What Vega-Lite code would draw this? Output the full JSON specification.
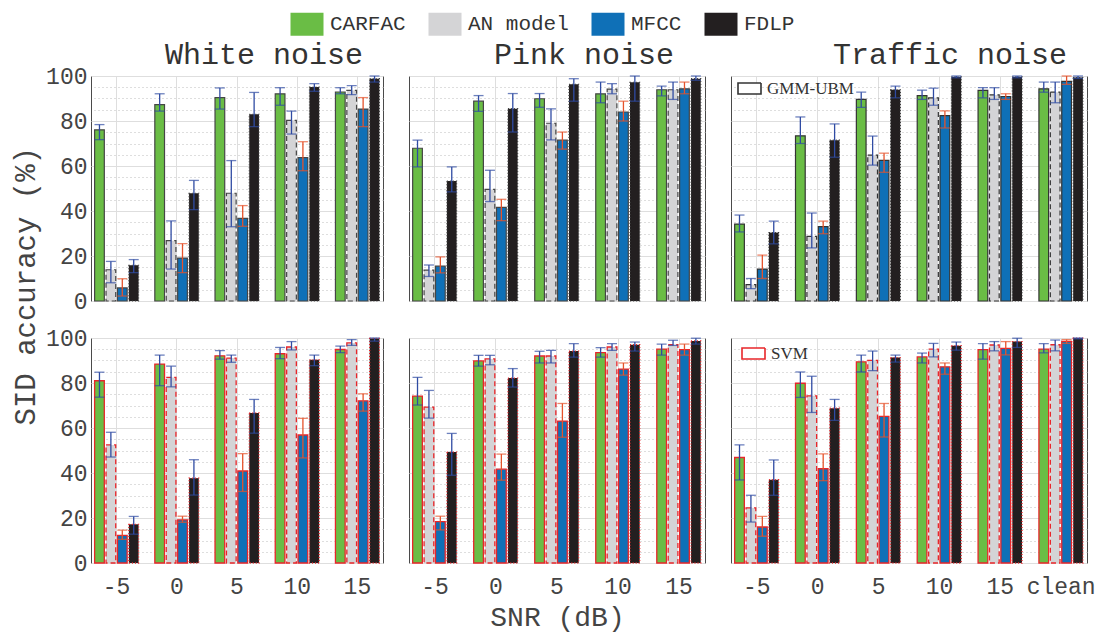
{
  "$schema": "https://vega.github.io/schema/vega-lite/v6.json",
  "padding": {"left": 12, "top": 7, "right": 20, "bottom": 2},
  "background": "white",
  "title": {"text": "SID accuracy (%)", "orient": "left", "anchor": "middle", "font": "Liberation Mono", "fontSize": 29, "fontWeight": "normal", "color": "#444", "offset": 4, "dx": 33},
  "datasets": {
    "d": [
      {"c":"GMM-UBM","n":"White noise","s":"-5","m":"CARFAC","v":76.1,"lo":71.7,"hi":78.4},
      {"c":"GMM-UBM","n":"White noise","s":"-5","m":"AN model","v":13.9,"lo":8.1,"hi":17.6},
      {"c":"GMM-UBM","n":"White noise","s":"-5","m":"MFCC","v":5.8,"lo":2.2,"hi":9.9},
      {"c":"GMM-UBM","n":"White noise","s":"-5","m":"FDLP","v":15.9,"lo":12.6,"hi":18.4},
      {"c":"GMM-UBM","n":"White noise","s":"0","m":"CARFAC","v":87.3,"lo":84.4,"hi":92.1},
      {"c":"GMM-UBM","n":"White noise","s":"0","m":"AN model","v":26.8,"lo":14.2,"hi":35.6},
      {"c":"GMM-UBM","n":"White noise","s":"0","m":"MFCC","v":19.1,"lo":12.6,"hi":25.5},
      {"c":"GMM-UBM","n":"White noise","s":"0","m":"FDLP","v":47.9,"lo":40.6,"hi":53.6},
      {"c":"GMM-UBM","n":"White noise","s":"5","m":"CARFAC","v":90.4,"lo":85.3,"hi":94.7},
      {"c":"GMM-UBM","n":"White noise","s":"5","m":"AN model","v":47.9,"lo":33.0,"hi":62.4},
      {"c":"GMM-UBM","n":"White noise","s":"5","m":"MFCC","v":36.7,"lo":33.2,"hi":42.4},
      {"c":"GMM-UBM","n":"White noise","s":"5","m":"FDLP","v":83.0,"lo":77.5,"hi":92.7},
      {"c":"GMM-UBM","n":"White noise","s":"10","m":"CARFAC","v":92.1,"lo":87.0,"hi":94.8},
      {"c":"GMM-UBM","n":"White noise","s":"10","m":"AN model","v":80.3,"lo":74.2,"hi":84.4},
      {"c":"GMM-UBM","n":"White noise","s":"10","m":"MFCC","v":63.7,"lo":57.9,"hi":70.8},
      {"c":"GMM-UBM","n":"White noise","s":"10","m":"FDLP","v":95.1,"lo":93.2,"hi":96.6},
      {"c":"GMM-UBM","n":"White noise","s":"15","m":"CARFAC","v":92.9,"lo":92.1,"hi":94.8},
      {"c":"GMM-UBM","n":"White noise","s":"15","m":"AN model","v":93.6,"lo":91.7,"hi":95.7},
      {"c":"GMM-UBM","n":"White noise","s":"15","m":"MFCC","v":85.3,"lo":77.5,"hi":90.4},
      {"c":"GMM-UBM","n":"White noise","s":"15","m":"FDLP","v":98.8,"lo":97.3,"hi":100},

      {"c":"GMM-UBM","n":"Pink noise","s":"-5","m":"CARFAC","v":67.9,"lo":59.6,"hi":71.5},
      {"c":"GMM-UBM","n":"Pink noise","s":"-5","m":"AN model","v":13.7,"lo":10.9,"hi":16.0},
      {"c":"GMM-UBM","n":"Pink noise","s":"-5","m":"MFCC","v":15.5,"lo":12.5,"hi":19.6},
      {"c":"GMM-UBM","n":"Pink noise","s":"-5","m":"FDLP","v":53.3,"lo":48.5,"hi":59.6},
      {"c":"GMM-UBM","n":"Pink noise","s":"0","m":"CARFAC","v":88.8,"lo":84.3,"hi":91.3},
      {"c":"GMM-UBM","n":"Pink noise","s":"0","m":"AN model","v":49.6,"lo":44.2,"hi":58.1},
      {"c":"GMM-UBM","n":"Pink noise","s":"0","m":"MFCC","v":41.6,"lo":35.7,"hi":45.2},
      {"c":"GMM-UBM","n":"Pink noise","s":"0","m":"FDLP","v":85.5,"lo":75.1,"hi":92.2},
      {"c":"GMM-UBM","n":"Pink noise","s":"5","m":"CARFAC","v":89.9,"lo":86.1,"hi":92.2},
      {"c":"GMM-UBM","n":"Pink noise","s":"5","m":"AN model","v":79.0,"lo":71.6,"hi":85.4},
      {"c":"GMM-UBM","n":"Pink noise","s":"5","m":"MFCC","v":71.5,"lo":67.5,"hi":75.1},
      {"c":"GMM-UBM","n":"Pink noise","s":"5","m":"FDLP","v":96.3,"lo":88.8,"hi":98.8},
      {"c":"GMM-UBM","n":"Pink noise","s":"10","m":"CARFAC","v":92.1,"lo":88.1,"hi":97.3},
      {"c":"GMM-UBM","n":"Pink noise","s":"10","m":"AN model","v":94.2,"lo":92.1,"hi":96.6},
      {"c":"GMM-UBM","n":"Pink noise","s":"10","m":"MFCC","v":84.0,"lo":80.0,"hi":88.8},
      {"c":"GMM-UBM","n":"Pink noise","s":"10","m":"FDLP","v":97.2,"lo":88.8,"hi":100},
      {"c":"GMM-UBM","n":"Pink noise","s":"15","m":"CARFAC","v":93.9,"lo":91.2,"hi":95.5},
      {"c":"GMM-UBM","n":"Pink noise","s":"15","m":"AN model","v":93.9,"lo":89.6,"hi":97.3},
      {"c":"GMM-UBM","n":"Pink noise","s":"15","m":"MFCC","v":94.3,"lo":92.1,"hi":97.3},
      {"c":"GMM-UBM","n":"Pink noise","s":"15","m":"FDLP","v":98.8,"lo":98.1,"hi":100},

      {"c":"GMM-UBM","n":"Traffic noise","s":"-5","m":"CARFAC","v":34.2,"lo":30.7,"hi":38.2},
      {"c":"GMM-UBM","n":"Traffic noise","s":"-5","m":"AN model","v":7.3,"lo":5.5,"hi":10.0},
      {"c":"GMM-UBM","n":"Traffic noise","s":"-5","m":"MFCC","v":14.2,"lo":10.0,"hi":20.4},
      {"c":"GMM-UBM","n":"Traffic noise","s":"-5","m":"FDLP","v":30.4,"lo":25.4,"hi":35.5},
      {"c":"GMM-UBM","n":"Traffic noise","s":"0","m":"CARFAC","v":73.4,"lo":70.0,"hi":81.8},
      {"c":"GMM-UBM","n":"Traffic noise","s":"0","m":"AN model","v":28.7,"lo":23.6,"hi":39.1},
      {"c":"GMM-UBM","n":"Traffic noise","s":"0","m":"MFCC","v":33.1,"lo":29.9,"hi":35.5},
      {"c":"GMM-UBM","n":"Traffic noise","s":"0","m":"FDLP","v":71.5,"lo":63.9,"hi":78.7},
      {"c":"GMM-UBM","n":"Traffic noise","s":"5","m":"CARFAC","v":89.6,"lo":86.1,"hi":92.8},
      {"c":"GMM-UBM","n":"Traffic noise","s":"5","m":"AN model","v":64.8,"lo":60.4,"hi":73.3},
      {"c":"GMM-UBM","n":"Traffic noise","s":"5","m":"MFCC","v":62.5,"lo":57.2,"hi":65.7},
      {"c":"GMM-UBM","n":"Traffic noise","s":"5","m":"FDLP","v":93.9,"lo":90.3,"hi":95.5},
      {"c":"GMM-UBM","n":"Traffic noise","s":"10","m":"CARFAC","v":91.3,"lo":89.6,"hi":93.7},
      {"c":"GMM-UBM","n":"Traffic noise","s":"10","m":"AN model","v":90.3,"lo":87.0,"hi":94.6},
      {"c":"GMM-UBM","n":"Traffic noise","s":"10","m":"MFCC","v":82.4,"lo":76.9,"hi":84.5},
      {"c":"GMM-UBM","n":"Traffic noise","s":"10","m":"FDLP","v":99.6,"lo":99.2,"hi":100},
      {"c":"GMM-UBM","n":"Traffic noise","s":"15","m":"CARFAC","v":93.6,"lo":90.3,"hi":94.8},
      {"c":"GMM-UBM","n":"Traffic noise","s":"15","m":"AN model","v":91.6,"lo":89.6,"hi":94.8},
      {"c":"GMM-UBM","n":"Traffic noise","s":"15","m":"MFCC","v":90.9,"lo":89.6,"hi":92.1},
      {"c":"GMM-UBM","n":"Traffic noise","s":"15","m":"FDLP","v":99.6,"lo":99.2,"hi":100},
      {"c":"GMM-UBM","n":"Traffic noise","s":"clean","m":"CARFAC","v":94.3,"lo":92.8,"hi":97.3},
      {"c":"GMM-UBM","n":"Traffic noise","s":"clean","m":"AN model","v":92.8,"lo":88.1,"hi":97.3},
      {"c":"GMM-UBM","n":"Traffic noise","s":"clean","m":"MFCC","v":97.6,"lo":96.3,"hi":100},
      {"c":"GMM-UBM","n":"Traffic noise","s":"clean","m":"FDLP","v":99.3,"lo":98.9,"hi":100},

      {"c":"SVM","n":"White noise","s":"-5","m":"CARFAC","v":81.0,"lo":73.7,"hi":84.8},
      {"c":"SVM","n":"White noise","s":"-5","m":"AN model","v":52.5,"lo":47.1,"hi":58.1},
      {"c":"SVM","n":"White noise","s":"-5","m":"MFCC","v":12.3,"lo":10.5,"hi":14.6},
      {"c":"SVM","n":"White noise","s":"-5","m":"FDLP","v":17.2,"lo":12.8,"hi":20.7},
      {"c":"SVM","n":"White noise","s":"0","m":"CARFAC","v":88.4,"lo":78.8,"hi":92.4},
      {"c":"SVM","n":"White noise","s":"0","m":"AN model","v":82.5,"lo":78.3,"hi":87.5},
      {"c":"SVM","n":"White noise","s":"0","m":"MFCC","v":19.2,"lo":18.1,"hi":20.8},
      {"c":"SVM","n":"White noise","s":"0","m":"FDLP","v":37.7,"lo":30.2,"hi":45.9},
      {"c":"SVM","n":"White noise","s":"5","m":"CARFAC","v":92.1,"lo":90.6,"hi":94.4},
      {"c":"SVM","n":"White noise","s":"5","m":"AN model","v":91.1,"lo":89.2,"hi":92.4},
      {"c":"SVM","n":"White noise","s":"5","m":"MFCC","v":40.9,"lo":31.8,"hi":48.6},
      {"c":"SVM","n":"White noise","s":"5","m":"FDLP","v":66.7,"lo":57.7,"hi":72.7},
      {"c":"SVM","n":"White noise","s":"10","m":"CARFAC","v":93.0,"lo":90.8,"hi":95.8},
      {"c":"SVM","n":"White noise","s":"10","m":"AN model","v":96.0,"lo":94.7,"hi":98.4},
      {"c":"SVM","n":"White noise","s":"10","m":"MFCC","v":56.9,"lo":46.7,"hi":64.3},
      {"c":"SVM","n":"White noise","s":"10","m":"FDLP","v":90.3,"lo":87.7,"hi":92.4},
      {"c":"SVM","n":"White noise","s":"15","m":"CARFAC","v":94.9,"lo":93.5,"hi":96.4},
      {"c":"SVM","n":"White noise","s":"15","m":"AN model","v":97.8,"lo":96.7,"hi":99.3},
      {"c":"SVM","n":"White noise","s":"15","m":"MFCC","v":72.1,"lo":67.5,"hi":75.2},
      {"c":"SVM","n":"White noise","s":"15","m":"FDLP","v":99.8,"lo":98.6,"hi":100},

      {"c":"SVM","n":"Pink noise","s":"-5","m":"CARFAC","v":74.2,"lo":70.2,"hi":82.5},
      {"c":"SVM","n":"Pink noise","s":"-5","m":"AN model","v":69.3,"lo":64.4,"hi":76.7},
      {"c":"SVM","n":"Pink noise","s":"-5","m":"MFCC","v":18.4,"lo":14.7,"hi":20.8},
      {"c":"SVM","n":"Pink noise","s":"-5","m":"FDLP","v":49.3,"lo":39.0,"hi":57.6},
      {"c":"SVM","n":"Pink noise","s":"0","m":"CARFAC","v":89.8,"lo":87.5,"hi":92.3},
      {"c":"SVM","n":"Pink noise","s":"0","m":"AN model","v":90.7,"lo":88.1,"hi":92.3},
      {"c":"SVM","n":"Pink noise","s":"0","m":"MFCC","v":41.7,"lo":36.8,"hi":48.4},
      {"c":"SVM","n":"Pink noise","s":"0","m":"FDLP","v":82.2,"lo":78.2,"hi":86.4},
      {"c":"SVM","n":"Pink noise","s":"5","m":"CARFAC","v":92.0,"lo":88.9,"hi":94.1},
      {"c":"SVM","n":"Pink noise","s":"5","m":"AN model","v":92.0,"lo":88.9,"hi":94.5},
      {"c":"SVM","n":"Pink noise","s":"5","m":"MFCC","v":63.1,"lo":55.9,"hi":70.9},
      {"c":"SVM","n":"Pink noise","s":"5","m":"FDLP","v":94.2,"lo":91.5,"hi":97.5},
      {"c":"SVM","n":"Pink noise","s":"10","m":"CARFAC","v":93.5,"lo":91.5,"hi":95.7},
      {"c":"SVM","n":"Pink noise","s":"10","m":"AN model","v":96.0,"lo":94.5,"hi":97.5},
      {"c":"SVM","n":"Pink noise","s":"10","m":"MFCC","v":86.2,"lo":83.5,"hi":88.9},
      {"c":"SVM","n":"Pink noise","s":"10","m":"FDLP","v":97.0,"lo":94.2,"hi":98.2},
      {"c":"SVM","n":"Pink noise","s":"15","m":"CARFAC","v":95.1,"lo":92.4,"hi":97.3},
      {"c":"SVM","n":"Pink noise","s":"15","m":"AN model","v":97.0,"lo":96.7,"hi":99.0},
      {"c":"SVM","n":"Pink noise","s":"15","m":"MFCC","v":94.8,"lo":92.4,"hi":97.3},
      {"c":"SVM","n":"Pink noise","s":"15","m":"FDLP","v":98.7,"lo":97.3,"hi":99.9},

      {"c":"SVM","n":"Traffic noise","s":"-5","m":"CARFAC","v":46.9,"lo":36.9,"hi":52.5},
      {"c":"SVM","n":"Traffic noise","s":"-5","m":"AN model","v":24.5,"lo":18.2,"hi":30.1},
      {"c":"SVM","n":"Traffic noise","s":"-5","m":"MFCC","v":16.0,"lo":11.9,"hi":20.7},
      {"c":"SVM","n":"Traffic noise","s":"-5","m":"FDLP","v":37.0,"lo":30.1,"hi":45.8},
      {"c":"SVM","n":"Traffic noise","s":"0","m":"CARFAC","v":79.9,"lo":73.6,"hi":84.9},
      {"c":"SVM","n":"Traffic noise","s":"0","m":"AN model","v":74.3,"lo":66.9,"hi":83.0},
      {"c":"SVM","n":"Traffic noise","s":"0","m":"MFCC","v":41.9,"lo":36.6,"hi":48.5},
      {"c":"SVM","n":"Traffic noise","s":"0","m":"FDLP","v":68.8,"lo":63.4,"hi":72.7},
      {"c":"SVM","n":"Traffic noise","s":"5","m":"CARFAC","v":89.4,"lo":84.9,"hi":92.4},
      {"c":"SVM","n":"Traffic noise","s":"5","m":"AN model","v":90.1,"lo":85.5,"hi":94.2},
      {"c":"SVM","n":"Traffic noise","s":"5","m":"MFCC","v":65.2,"lo":56.0,"hi":70.9},
      {"c":"SVM","n":"Traffic noise","s":"5","m":"FDLP","v":91.3,"lo":89.3,"hi":92.4},
      {"c":"SVM","n":"Traffic noise","s":"10","m":"CARFAC","v":91.6,"lo":88.9,"hi":93.3},
      {"c":"SVM","n":"Traffic noise","s":"10","m":"AN model","v":95.1,"lo":91.6,"hi":97.6},
      {"c":"SVM","n":"Traffic noise","s":"10","m":"MFCC","v":87.2,"lo":83.9,"hi":88.9},
      {"c":"SVM","n":"Traffic noise","s":"10","m":"FDLP","v":96.6,"lo":94.6,"hi":98.2},
      {"c":"SVM","n":"Traffic noise","s":"15","m":"CARFAC","v":94.8,"lo":90.6,"hi":97.5},
      {"c":"SVM","n":"Traffic noise","s":"15","m":"AN model","v":96.9,"lo":94.3,"hi":98.4},
      {"c":"SVM","n":"Traffic noise","s":"15","m":"MFCC","v":95.4,"lo":92.5,"hi":98.4},
      {"c":"SVM","n":"Traffic noise","s":"15","m":"FDLP","v":98.4,"lo":95.8,"hi":99.9},
      {"c":"SVM","n":"Traffic noise","s":"clean","m":"CARFAC","v":95.1,"lo":93.4,"hi":97.5},
      {"c":"SVM","n":"Traffic noise","s":"clean","m":"AN model","v":97.0,"lo":94.3,"hi":99.1},
      {"c":"SVM","n":"Traffic noise","s":"clean","m":"MFCC","v":98.5,"lo":97.6,"hi":99.3},
      {"c":"SVM","n":"Traffic noise","s":"clean","m":"FDLP","v":99.9,"lo":99.6,"hi":100}
    ]
  },
  "data": {"name": "d"},
  "vconcat": [
    {
      "hconcat": [
        {
          "width": 292, "height": 225,
          "title": {"text": "White noise", "font": "Liberation Mono", "fontSize": 30, "fontWeight": "normal", "color": "#333", "offset": -5, "dx": 27},
          "transform": [{"filter": "datum.c === 'GMM-UBM' && datum.n === 'White noise'"}],
          "encoding": {
            "x": {"field": "s", "type": "nominal", "sort": ["-5","0","5","10","15"], "scale": {"paddingInner": 0.27, "paddingOuter": 0.06}, "axis": {"labels": false, "title": null, "grid": true, "bandPosition": 0.5}},
            "xOffset": {"field": "m", "type": "nominal", "sort": ["CARFAC","AN model","MFCC","FDLP"], "scale": {"paddingInner": 0.15, "paddingOuter": 0}}
          },
          "layer": [
            {"mark": {"type": "bar", "strokeWidth": 1.2},
             "encoding": {
               "y": {"field": "v", "type": "quantitative", "scale": {"domain": [0, 100], "nice": false}, "axis": {"values": [0,20,40,60,80,100], "title": null, "grid": true}},
               "color": {"field": "m", "type": "nominal", "scale": {"domain": ["CARFAC","AN model","MFCC","FDLP"], "range": ["#6abd45","#d4d4d6","#0f70b7","#231f20"]}, "legend": {"orient": "none", "legendX": 199, "legendY": -69, "direction": "horizontal", "title": null}},
               "strokeDash": {"field": "m", "type": "nominal", "scale": {"domain": ["CARFAC","AN model","MFCC","FDLP"], "range": [[1,0],[5,3],[1,0],[1,2]]}, "legend": {"orient": "none", "legendX": 199, "legendY": -69, "direction": "horizontal", "title": null}},
               "stroke": {"field": "c", "type": "nominal", "scale": {"domain": ["GMM-UBM"], "range": ["#454545"]}, "legend": null}
             }},
            {"mark": {"type": "rule", "strokeWidth": 1.3},
             "encoding": {
               "y": {"field": "lo", "type": "quantitative", "axis": {"orient": "right", "values": [5,10,15,25,30,35,45,50,55,65,70,75,85,90,95], "grid": true, "gridDash": [1,3], "gridColor": "#bdbdbd", "labels": false, "ticks": false, "domain": false, "title": null}},
               "y2": {"field": "hi"},
               "color": {"condition": {"test": "datum.m === 'MFCC'", "value": "#e5522b"}, "value": "#2f4ba3"}
             }},
            {"mark": {"type": "tick", "orient": "horizontal", "size": 10, "thickness": 1.3},
             "encoding": {"y": {"field": "lo", "type": "quantitative", "axis": null}, "color": {"condition": {"test": "datum.m === 'MFCC'", "value": "#e5522b"}, "value": "#2f4ba3"}}},
            {"mark": {"type": "tick", "orient": "horizontal", "size": 10, "thickness": 1.3},
             "encoding": {"y": {"field": "hi", "type": "quantitative", "axis": null}, "color": {"condition": {"test": "datum.m === 'MFCC'", "value": "#e5522b"}, "value": "#2f4ba3"}}}
          ],
          "resolve": {"axis": {"y": "independent"}}
        },
        {
          "width": 296, "height": 225,
          "title": {"text": "Pink noise", "font": "Liberation Mono", "fontSize": 30, "fontWeight": "normal", "color": "#333", "offset": 5, "dx": 27},
          "transform": [{"filter": "datum.c === 'GMM-UBM' && datum.n === 'Pink noise'"}],
          "encoding": {
            "x": {"field": "s", "type": "nominal", "sort": ["-5","0","5","10","15"], "scale": {"paddingInner": 0.27, "paddingOuter": 0.06}, "axis": {"labels": false, "title": null, "grid": true, "bandPosition": 0.5}},
            "xOffset": {"field": "m", "type": "nominal", "sort": ["CARFAC","AN model","MFCC","FDLP"], "scale": {"paddingInner": 0.15, "paddingOuter": 0}}
          },
          "layer": [
            {"mark": {"type": "bar", "strokeWidth": 1.2},
             "encoding": {
               "y": {"field": "v", "type": "quantitative", "scale": {"domain": [0, 100], "nice": false}, "axis": {"values": [0,20,40,60,80,100], "title": null, "grid": true, "labels": false}},
               "color": {"field": "m", "type": "nominal", "scale": {"domain": ["CARFAC","AN model","MFCC","FDLP"], "range": ["#6abd45","#d4d4d6","#0f70b7","#231f20"]}, "legend": {"orient": "none", "legendX": 199, "legendY": -69, "direction": "horizontal", "title": null}},
               "strokeDash": {"field": "m", "type": "nominal", "scale": {"domain": ["CARFAC","AN model","MFCC","FDLP"], "range": [[1,0],[5,3],[1,0],[1,2]]}, "legend": {"orient": "none", "legendX": 199, "legendY": -69, "direction": "horizontal", "title": null}},
               "stroke": {"field": "c", "type": "nominal", "scale": {"domain": ["GMM-UBM"], "range": ["#454545"]}, "legend": null}
             }},
            {"mark": {"type": "rule", "strokeWidth": 1.3},
             "encoding": {
               "y": {"field": "lo", "type": "quantitative", "axis": {"orient": "right", "values": [5,10,15,25,30,35,45,50,55,65,70,75,85,90,95], "grid": true, "gridDash": [1,3], "gridColor": "#bdbdbd", "labels": false, "ticks": false, "domain": false, "title": null}},
               "y2": {"field": "hi"},
               "color": {"condition": {"test": "datum.m === 'MFCC'", "value": "#e5522b"}, "value": "#2f4ba3"}
             }},
            {"mark": {"type": "tick", "orient": "horizontal", "size": 10, "thickness": 1.3},
             "encoding": {"y": {"field": "lo", "type": "quantitative", "axis": null}, "color": {"condition": {"test": "datum.m === 'MFCC'", "value": "#e5522b"}, "value": "#2f4ba3"}}},
            {"mark": {"type": "tick", "orient": "horizontal", "size": 10, "thickness": 1.3},
             "encoding": {"y": {"field": "hi", "type": "quantitative", "axis": null}, "color": {"condition": {"test": "datum.m === 'MFCC'", "value": "#e5522b"}, "value": "#2f4ba3"}}}
          ],
          "resolve": {"axis": {"y": "independent"}}
        },
        {
          "width": 356, "height": 225,
          "title": {"text": "Traffic noise", "font": "Liberation Mono", "fontSize": 30, "fontWeight": "normal", "color": "#333", "offset": 5, "dx": 41},
          "transform": [{"filter": "datum.c === 'GMM-UBM' && datum.n === 'Traffic noise'"}],
          "encoding": {
            "x": {"field": "s", "type": "nominal", "sort": ["-5","0","5","10","15","clean"], "scale": {"paddingInner": 0.27, "paddingOuter": 0.06}, "axis": {"labels": false, "title": null, "grid": true, "bandPosition": 0.5}},
            "xOffset": {"field": "m", "type": "nominal", "sort": ["CARFAC","AN model","MFCC","FDLP"], "scale": {"paddingInner": 0.15, "paddingOuter": 0}}
          },
          "layer": [
            {"mark": {"type": "bar", "strokeWidth": 1.2},
             "encoding": {
               "y": {"field": "v", "type": "quantitative", "scale": {"domain": [0, 100], "nice": false}, "axis": {"values": [0,20,40,60,80,100], "title": null, "grid": true, "labels": false}},
               "color": {"field": "m", "type": "nominal", "scale": {"domain": ["CARFAC","AN model","MFCC","FDLP"], "range": ["#6abd45","#d4d4d6","#0f70b7","#231f20"]}, "legend": {"orient": "none", "legendX": 199, "legendY": -69, "direction": "horizontal", "title": null}},
               "strokeDash": {"field": "m", "type": "nominal", "scale": {"domain": ["CARFAC","AN model","MFCC","FDLP"], "range": [[1,0],[5,3],[1,0],[1,2]]}, "legend": {"orient": "none", "legendX": 199, "legendY": -69, "direction": "horizontal", "title": null}},
               "stroke": {"field": "c", "type": "nominal", "scale": {"domain": ["GMM-UBM"], "range": ["#333333"]}, "legend": {"orient": "none", "legendX": 6, "legendY": 0, "title": null, "symbolType": "M-1,-0.48H1V0.48H-1Z", "symbolSize": 529, "symbolStrokeWidth": 1.6, "symbolFillColor": "white", "labelFont": "Liberation Serif", "labelFontSize": 17, "labelColor": "#333", "labelOffset": 5, "encode": {"symbols": {"enter": {"fill": {"value": "white"}}, "update": {"fill": {"value": "white"}, "stroke": {"value": "#333"}, "strokeDash": {"value": [1, 0]}}}}}}
             }},
            {"mark": {"type": "rule", "strokeWidth": 1.3},
             "encoding": {
               "y": {"field": "lo", "type": "quantitative", "axis": {"orient": "right", "values": [5,10,15,25,30,35,45,50,55,65,70,75,85,90,95], "grid": true, "gridDash": [1,3], "gridColor": "#bdbdbd", "labels": false, "ticks": false, "domain": false, "title": null}},
               "y2": {"field": "hi"},
               "color": {"condition": {"test": "datum.m === 'MFCC'", "value": "#e5522b"}, "value": "#2f4ba3"}
             }},
            {"mark": {"type": "tick", "orient": "horizontal", "size": 10, "thickness": 1.3},
             "encoding": {"y": {"field": "lo", "type": "quantitative", "axis": null}, "color": {"condition": {"test": "datum.m === 'MFCC'", "value": "#e5522b"}, "value": "#2f4ba3"}}},
            {"mark": {"type": "tick", "orient": "horizontal", "size": 10, "thickness": 1.3},
             "encoding": {"y": {"field": "hi", "type": "quantitative", "axis": null}, "color": {"condition": {"test": "datum.m === 'MFCC'", "value": "#e5522b"}, "value": "#2f4ba3"}}}
          ],
          "resolve": {"axis": {"y": "independent"}}
        }
      ],
      "spacing": 24,
      "resolve": {"scale": {"stroke": "independent"}, "legend": {"stroke": "independent"}}
    },
    {
      "hconcat": [
        {
          "width": 292, "height": 225,
          "transform": [{"filter": "datum.c === 'SVM' && datum.n === 'White noise'"}],
          "encoding": {
            "x": {"field": "s", "type": "nominal", "sort": ["-5","0","5","10","15"], "scale": {"paddingInner": 0.27, "paddingOuter": 0.06}, "axis": {"title": null, "grid": true, "bandPosition": 0.5, "labelAngle": 0, "labelPadding": 12}},
            "xOffset": {"field": "m", "type": "nominal", "sort": ["CARFAC","AN model","MFCC","FDLP"], "scale": {"paddingInner": 0.15, "paddingOuter": 0}}
          },
          "layer": [
            {"mark": {"type": "bar", "strokeWidth": 1.3},
             "encoding": {
               "y": {"field": "v", "type": "quantitative", "scale": {"domain": [0, 100], "nice": false}, "axis": {"values": [0,20,40,60,80,100], "title": null, "grid": true}},
               "color": {"field": "m", "type": "nominal", "scale": {"domain": ["CARFAC","AN model","MFCC","FDLP"], "range": ["#6abd45","#d4d4d6","#0f70b7","#231f20"]}, "legend": {"orient": "none", "legendX": 199, "legendY": -69, "direction": "horizontal", "title": null}},
               "strokeDash": {"field": "m", "type": "nominal", "scale": {"domain": ["CARFAC","AN model","MFCC","FDLP"], "range": [[1,0],[5,3],[1,0],[1,2]]}, "legend": {"orient": "none", "legendX": 199, "legendY": -69, "direction": "horizontal", "title": null}},
               "stroke": {"field": "c", "type": "nominal", "scale": {"domain": ["SVM"], "range": ["#e8262a"]}, "legend": null}
             }},
            {"mark": {"type": "rule", "strokeWidth": 1.3},
             "encoding": {
               "y": {"field": "lo", "type": "quantitative", "axis": {"orient": "right", "values": [5,10,15,25,30,35,45,50,55,65,70,75,85,90,95], "grid": true, "gridDash": [1,3], "gridColor": "#bdbdbd", "labels": false, "ticks": false, "domain": false, "title": null}},
               "y2": {"field": "hi"},
               "color": {"condition": {"test": "datum.m === 'MFCC'", "value": "#e5522b"}, "value": "#2f4ba3"}
             }},
            {"mark": {"type": "tick", "orient": "horizontal", "size": 10, "thickness": 1.3},
             "encoding": {"y": {"field": "lo", "type": "quantitative", "axis": null}, "color": {"condition": {"test": "datum.m === 'MFCC'", "value": "#e5522b"}, "value": "#2f4ba3"}}},
            {"mark": {"type": "tick", "orient": "horizontal", "size": 10, "thickness": 1.3},
             "encoding": {"y": {"field": "hi", "type": "quantitative", "axis": null}, "color": {"condition": {"test": "datum.m === 'MFCC'", "value": "#e5522b"}, "value": "#2f4ba3"}}}
          ],
          "resolve": {"axis": {"y": "independent"}}
        },
        {
          "width": 296, "height": 225,
          "transform": [{"filter": "datum.c === 'SVM' && datum.n === 'Pink noise'"}],
          "encoding": {
            "x": {"field": "s", "type": "nominal", "sort": ["-5","0","5","10","15"], "scale": {"paddingInner": 0.27, "paddingOuter": 0.06}, "axis": {"title": "SNR (dB)", "titlePadding": 5, "titleFontSize": 28, "grid": true, "bandPosition": 0.5, "labelAngle": 0, "labelPadding": 12}},
            "xOffset": {"field": "m", "type": "nominal", "sort": ["CARFAC","AN model","MFCC","FDLP"], "scale": {"paddingInner": 0.15, "paddingOuter": 0}}
          },
          "layer": [
            {"mark": {"type": "bar", "strokeWidth": 1.3},
             "encoding": {
               "y": {"field": "v", "type": "quantitative", "scale": {"domain": [0, 100], "nice": false}, "axis": {"values": [0,20,40,60,80,100], "title": null, "grid": true, "labels": false}},
               "color": {"field": "m", "type": "nominal", "scale": {"domain": ["CARFAC","AN model","MFCC","FDLP"], "range": ["#6abd45","#d4d4d6","#0f70b7","#231f20"]}, "legend": {"orient": "none", "legendX": 199, "legendY": -69, "direction": "horizontal", "title": null}},
               "strokeDash": {"field": "m", "type": "nominal", "scale": {"domain": ["CARFAC","AN model","MFCC","FDLP"], "range": [[1,0],[5,3],[1,0],[1,2]]}, "legend": {"orient": "none", "legendX": 199, "legendY": -69, "direction": "horizontal", "title": null}},
               "stroke": {"field": "c", "type": "nominal", "scale": {"domain": ["SVM"], "range": ["#e8262a"]}, "legend": null}
             }},
            {"mark": {"type": "rule", "strokeWidth": 1.3},
             "encoding": {
               "y": {"field": "lo", "type": "quantitative", "axis": {"orient": "right", "values": [5,10,15,25,30,35,45,50,55,65,70,75,85,90,95], "grid": true, "gridDash": [1,3], "gridColor": "#bdbdbd", "labels": false, "ticks": false, "domain": false, "title": null}},
               "y2": {"field": "hi"},
               "color": {"condition": {"test": "datum.m === 'MFCC'", "value": "#e5522b"}, "value": "#2f4ba3"}
             }},
            {"mark": {"type": "tick", "orient": "horizontal", "size": 10, "thickness": 1.3},
             "encoding": {"y": {"field": "lo", "type": "quantitative", "axis": null}, "color": {"condition": {"test": "datum.m === 'MFCC'", "value": "#e5522b"}, "value": "#2f4ba3"}}},
            {"mark": {"type": "tick", "orient": "horizontal", "size": 10, "thickness": 1.3},
             "encoding": {"y": {"field": "hi", "type": "quantitative", "axis": null}, "color": {"condition": {"test": "datum.m === 'MFCC'", "value": "#e5522b"}, "value": "#2f4ba3"}}}
          ],
          "resolve": {"axis": {"y": "independent"}}
        },
        {
          "width": 356, "height": 225,
          "transform": [{"filter": "datum.c === 'SVM' && datum.n === 'Traffic noise'"}],
          "encoding": {
            "x": {"field": "s", "type": "nominal", "sort": ["-5","0","5","10","15","clean"], "scale": {"paddingInner": 0.27, "paddingOuter": 0.06}, "axis": {"title": null, "grid": true, "bandPosition": 0.5, "labelAngle": 0, "labelPadding": 12}},
            "xOffset": {"field": "m", "type": "nominal", "sort": ["CARFAC","AN model","MFCC","FDLP"], "scale": {"paddingInner": 0.15, "paddingOuter": 0}}
          },
          "layer": [
            {"mark": {"type": "bar", "strokeWidth": 1.3},
             "encoding": {
               "y": {"field": "v", "type": "quantitative", "scale": {"domain": [0, 100], "nice": false}, "axis": {"values": [0,20,40,60,80,100], "title": null, "grid": true, "labels": false}},
               "color": {"field": "m", "type": "nominal", "scale": {"domain": ["CARFAC","AN model","MFCC","FDLP"], "range": ["#6abd45","#d4d4d6","#0f70b7","#231f20"]}, "legend": {"orient": "none", "legendX": 199, "legendY": -69, "direction": "horizontal", "title": null}},
               "strokeDash": {"field": "m", "type": "nominal", "scale": {"domain": ["CARFAC","AN model","MFCC","FDLP"], "range": [[1,0],[5,3],[1,0],[1,2]]}, "legend": {"orient": "none", "legendX": 199, "legendY": -69, "direction": "horizontal", "title": null}},
               "stroke": {"field": "c", "type": "nominal", "scale": {"domain": ["SVM"], "range": ["#e8262a"]}, "legend": {"orient": "none", "legendX": 10, "legendY": 3, "title": null, "symbolType": "M-1,-0.48H1V0.48H-1Z", "symbolSize": 529, "symbolStrokeWidth": 1.6, "symbolFillColor": "white", "labelFont": "Liberation Serif", "labelFontSize": 17, "labelColor": "#333", "labelOffset": 5, "encode": {"symbols": {"enter": {"fill": {"value": "white"}}, "update": {"fill": {"value": "white"}, "stroke": {"value": "#e8262a"}, "strokeDash": {"value": [1, 0]}}}}}}
             }},
            {"mark": {"type": "rule", "strokeWidth": 1.3},
             "encoding": {
               "y": {"field": "lo", "type": "quantitative", "axis": {"orient": "right", "values": [5,10,15,25,30,35,45,50,55,65,70,75,85,90,95], "grid": true, "gridDash": [1,3], "gridColor": "#bdbdbd", "labels": false, "ticks": false, "domain": false, "title": null}},
               "y2": {"field": "hi"},
               "color": {"condition": {"test": "datum.m === 'MFCC'", "value": "#e5522b"}, "value": "#2f4ba3"}
             }},
            {"mark": {"type": "tick", "orient": "horizontal", "size": 10, "thickness": 1.3},
             "encoding": {"y": {"field": "lo", "type": "quantitative", "axis": null}, "color": {"condition": {"test": "datum.m === 'MFCC'", "value": "#e5522b"}, "value": "#2f4ba3"}}},
            {"mark": {"type": "tick", "orient": "horizontal", "size": 10, "thickness": 1.3},
             "encoding": {"y": {"field": "hi", "type": "quantitative", "axis": null}, "color": {"condition": {"test": "datum.m === 'MFCC'", "value": "#e5522b"}, "value": "#2f4ba3"}}}
          ],
          "resolve": {"axis": {"y": "independent"}}
        }
      ],
      "spacing": 24,
      "resolve": {"scale": {"stroke": "independent"}, "legend": {"stroke": "independent"}}
    }
  ],
  "spacing": 12,
  "resolve": {"scale": {"stroke": "independent"}, "legend": {"stroke": "independent"}},
  "config": {
    "view": {"stroke": "#4a4a4a", "strokeWidth": 1},
    "axis": {"domain": false, "ticks": false, "labelFont": "Liberation Mono", "labelFontSize": 23, "labelColor": "#444", "labelPadding": 4, "gridColor": "#dedede", "gridWidth": 1, "titleFont": "Liberation Mono", "titleFontSize": 29, "titleFontWeight": "normal", "titleColor": "#444"},
    "legend": {"labelFont": "Liberation Mono", "labelFontSize": 21, "labelColor": "#333", "symbolType": "M-1,-0.7H1V0.7H-1Z", "symbolSize": 1089, "symbolStrokeColor": "#555", "symbolStrokeWidth": 1, "columnPadding": 20, "labelOffset": 6}
  }
}
